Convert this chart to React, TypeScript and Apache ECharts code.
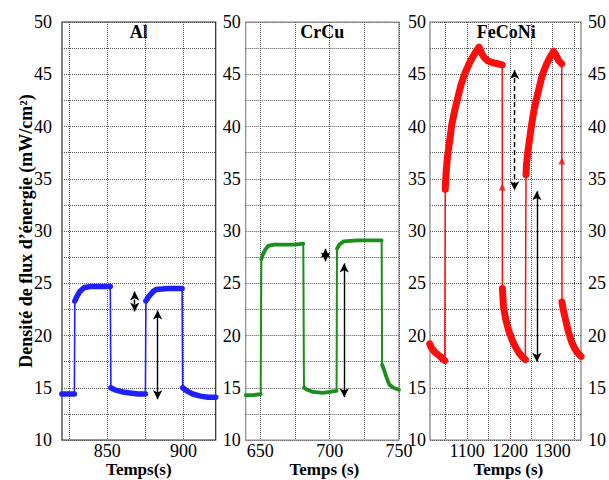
import React, { useEffect, useRef } from "react";
import * as echarts from "echarts";

// ---- Data ----
// Al panel: segments of the measured curve (thick parts), joined by thin transitions
const alSegments: number[][][] = [
  [[820.3, 14.4], [824, 14.4], [828.5, 14.4]],
  [[828.8, 23.3], [830, 23.7], [832, 24.2], [835, 24.6], [840, 24.7], [846, 24.7], [852, 24.7]],
  [[852.4, 15.0], [855, 14.8], [860, 14.6], [865, 14.5], [870, 14.4], [875, 14.4]],
  [[875.3, 23.3], [877, 23.7], [880, 24.2], [882, 24.4], [890, 24.5], [899, 24.5]],
  [[899.4, 15.0], [902, 14.7], [906, 14.4], [911, 14.2], [916, 14.1], [921, 14.1]],
];
const crcuSegments: number[][][] = [
  [[639.5, 14.3], [645, 14.3], [650.3, 14.4]],
  [[650.8, 27.3], [652, 27.8], [654, 28.3], [656, 28.6], [660, 28.7], [670, 28.7], [675, 28.7], [681, 28.8]],
  [[681.5, 15.0], [684, 14.8], [688, 14.6], [695, 14.5], [700, 14.6], [705, 14.7]],
  [[705.3, 28.3], [707, 28.7], [710, 29.0], [720, 29.1], [730, 29.1], [737.5, 29.1]],
  [[737.8, 17.2], [739, 16.8], [741, 16.0], [743, 15.3], [746, 15.0], [750, 14.8]],
];
const fecoSegments: number[][][] = [
  [[1013, 19.2], [1017, 18.8], [1025, 18.4], [1037, 18.0], [1048, 17.6]],
  [[1049, 34.0], [1051, 35.5], [1054, 37.0], [1058, 38.2], [1064, 40.1], [1071, 41.5], [1078, 42.7], [1086, 44.0], [1095, 45.1], [1107, 46.2], [1118, 47.0], [1128, 47.6], [1134, 47.0], [1140, 46.6], [1148, 46.3], [1160, 46.1], [1172, 46.0], [1182, 45.9]],
  [[1182.5, 24.5], [1185, 22.8], [1190, 21.6], [1197, 20.5], [1205, 19.6], [1213, 18.9], [1222, 18.3], [1230, 17.9], [1236, 17.7]],
  [[1237.6, 35.4], [1239, 36.5], [1242, 37.6], [1246, 38.8], [1250, 40.0], [1256, 41.5], [1263, 42.8], [1270, 44.0], [1277, 45.1], [1285, 45.9], [1292, 46.5], [1302, 47.2], [1308, 46.8], [1314, 46.3], [1321, 46.0]],
  [[1321.5, 23.2], [1325, 22.4], [1330, 21.5], [1337, 20.3], [1345, 19.3], [1352, 18.7], [1359, 18.3], [1366, 18.0]],
];
const fecoLoneMarkers: number[][] = [[1182.2, 34.2], [1321.2, 36.7]];

// double arrows: [x, yFrom, yTo, dashed(1) / solid(0)]
const alArrows: number[][] = [[868, 24.2, 22.3, 1], [883, 22.4, 13.9, 0]];
const crcuArrows: number[][] = [[697, 28.3, 27.1, 1], [710.5, 26.9, 14.1, 0]];
const fecoArrows: number[][] = [[1211, 45.4, 33.9, 1], [1263, 33.8, 17.5, 0]];

const panelTitles = ["Al", "CrCu", "FeCoNi"];
const xNames = ["Temps(s)", "Temps (s)", "Temps (s)"];
const yName = "Densité de flux d’énergie (mW/cm²)";
const xRanges = [[820.4, 921], [639.5, 750], [1013.5, 1366]];
const xTickValues = [[825, 850, 875, 900], [650, 675, 700, 725, 750], [1050, 1100, 1150, 1200, 1250, 1300, 1350]];
const xLabelValues = [[850, 900], [650, 700, 750], [1100, 1200, 1300]];
const yMin = 10;
const yMax = 50;
const yStep = 2.5;

const colors = ["#1f1fff", "#1a8f1a", "#ff0d0d"];

export default function App() {
  const ref = useRef<HTMLDivElement>(null);
  useEffect(() => {
    if (!ref.current) return;
    const chart = echarts.init(ref.current, null, { renderer: "svg" });
    const font = "Liberation Serif";
    const grids = [
      { left: 62, top: 22, width: 153.7, height: 418 },
      { left: 245.7, top: 22, width: 153.3, height: 418 },
      { left: 430, top: 22, width: 152.7, height: 418 },
    ];
    const borderColors = ["#2a2a2a", "#8a8a8a", "#7a7a7a"];
    const yMargins = [10, 5, 4];

    const splitLine = { show: true, lineStyle: { type: "dotted", color: "#555", width: 1 } };
    const labelStyle = { color: "#000", fontFamily: font, fontSize: 18 };

    const xAxes = xRanges.map((r, i) => ({
      type: "value",
      gridIndex: i,
      min: r[0],
      max: r[1],
      axisLine: { show: false },
      axisTick: { show: false, customValues: xTickValues[i] },
      axisLabel: { ...labelStyle, margin: 2, customValues: xLabelValues[i], formatter: (v: number) => String(v) },
      splitLine,
    }));
    const yAxes: any[] = [0, 1, 2].map((i) => ({
      type: "value",
      gridIndex: i,
      min: yMin,
      max: yMax,
      interval: yStep,
      axisLine: { show: false },
      axisTick: { show: false },
      axisLabel: {
        ...labelStyle,
        margin: yMargins[i],
        formatter: (v: number) => (v % 5 === 0 ? String(v) : ""),
      },
      splitLine,
    }));
    yAxes.push({
      type: "value",
      gridIndex: 2,
      position: "right",
      min: yMin,
      max: yMax,
      interval: yStep,
      axisLine: { show: false },
      axisTick: { show: false },
      axisLabel: {
        ...labelStyle,
        margin: 7,
        formatter: (v: number) => (v % 5 === 0 ? String(v) : ""),
      },
      splitLine: { show: false },
    });

    const panels = [
      { segs: alSegments, arrows: alArrows, thin: 1.6, thick: 5.5 },
      { segs: crcuSegments, arrows: crcuArrows, thin: 2, thick: 3.8 },
      { segs: fecoSegments, arrows: fecoArrows, thin: 1.5, thick: 7 },
    ];
    const series: any[] = [];
    panels.forEach((p, i) => {
      series.push({
        type: "line",
        xAxisIndex: i,
        yAxisIndex: i,
        data: p.segs.flat(),
        showSymbol: false,
        lineStyle: { color: colors[i], width: p.thin },
        silent: true,
        markLine: {
          silent: true,
          symbol: ["arrow", "arrow"],
          symbolSize: [7, 9],
          label: { show: false },
          data: p.arrows.map((a) => [
            { coord: [a[0], a[1]], lineStyle: { type: a[3] ? [5, 3] : "solid", color: "#000", width: 1.4 } },
            { coord: [a[0], a[2]] },
          ]),
        },
      });
      p.segs.forEach((s) => {
        series.push({
          type: "line",
          xAxisIndex: i,
          yAxisIndex: i,
          data: s,
          showSymbol: false,
          lineStyle: { color: colors[i], width: p.thick, cap: "round", join: "round" },
          silent: true,
        });
      });
    });
    series.push({
      type: "scatter",
      xAxisIndex: 2,
      yAxisIndex: 2,
      data: fecoLoneMarkers,
      symbol: "triangle",
      symbolSize: 7,
      itemStyle: { color: colors[2] },
      silent: true,
    });

    const graphic: any[] = [];
    grids.forEach((g, i) => {
      graphic.push({
        type: "text",
        x: g.left + g.width / 2,
        y: 23,
        style: { text: panelTitles[i], fill: "#000", font: `bold 18px "${font}"`, textAlign: "center", textVerticalAlign: "top" },
      });
      graphic.push({
        type: "text",
        x: g.left + g.width / 2 + (i === 0 ? 0 : 2),
        y: 461,
        style: { text: xNames[i], fill: "#000", font: `bold 17px "${font}"`, textAlign: "center", textVerticalAlign: "top" },
      });
    });
    graphic.push({
      type: "text",
      x: 26,
      y: 231,
      rotation: Math.PI / 2,
      style: { text: yName, fill: "#000", font: `bold 18px "${font}"`, textAlign: "center", textVerticalAlign: "middle" },
    });

    chart.setOption({
      animation: false,
      backgroundColor: "#fff",
      grid: grids.map((g, i) => ({ ...g, show: true, borderColor: borderColors[i], borderWidth: 1.2, backgroundColor: "transparent" })),
      xAxis: xAxes,
      yAxis: yAxes,
      series,
      graphic,
    });
    return () => chart.dispose();
  }, []);
  return <div ref={ref} style={{ position: "fixed", left: 0, top: 0, width: 609, height: 480 }} />;
}
